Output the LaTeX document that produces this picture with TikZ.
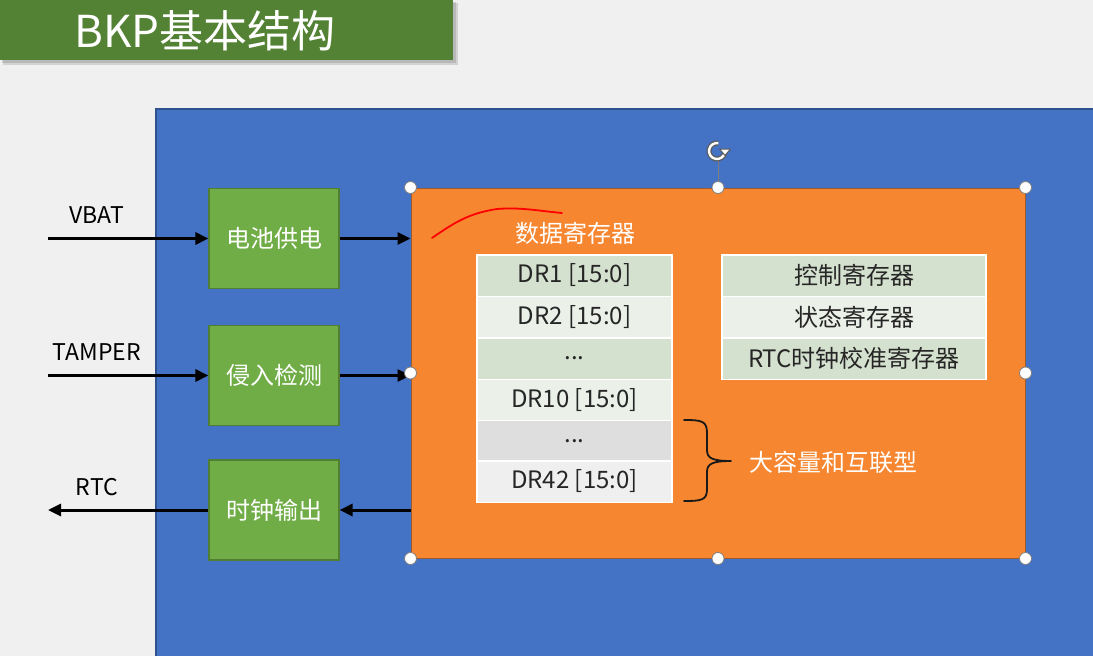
\documentclass[tikz,border=0pt]{standalone}
\usepackage{fontspec}
\setmainfont{Noto Sans CJK SC}
\usetikzlibrary{arrows.meta,calc}
\definecolor{bgc}{HTML}{F0F0F0}
\definecolor{titlegreen}{HTML}{548235}
\definecolor{panelblue}{HTML}{4472C4}
\definecolor{panelborder}{HTML}{2F528F}
\definecolor{coreorange}{HTML}{F6862F}
\definecolor{coreborder}{HTML}{9C5B2E}
\definecolor{boxgreen}{HTML}{70AD47}
\definecolor{boxborder}{HTML}{507E32}
\definecolor{rowA}{HTML}{D5E1CF}
\definecolor{rowB}{HTML}{EBF0E8}
\definecolor{rowC}{HTML}{DEDEDE}
\definecolor{rowD}{HTML}{EFEFEF}
\definecolor{txtdark}{HTML}{262626}
\definecolor{handlegray}{HTML}{7F7F7F}
\begin{document}
\begin{tikzpicture}[x=1pt,y=-1pt,
  fs/.style={font=\fontsize{#1}{#1}\selectfont},
  gbox/.style={draw=boxborder, line width=1.2pt, fill=boxgreen, minimum width=130, minimum height=100, inner sep=0, text=white, fs=24},
  arr/.style={line width=3pt, black, -{Triangle[length=13pt,width=12pt]}},
  sig/.style={fs=23, text=black, inner sep=0},
  row/.style={draw=white, line width=1.5pt, minimum height=41.5, inner sep=0, text=txtdark, fs=24},
  handle/.style={circle, fill=white, draw=handlegray, line width=0.8pt, minimum size=12, inner sep=0},
]
\useasboundingbox (0,0) rectangle (1093,656);
\fill[bgc] (0,0) rectangle (1093,656);

% title
\fill[black, opacity=0.12] (3,3) rectangle (458,65);
\fill[black, opacity=0.12] (2,2) rectangle (456,63);
\node[fill=titlegreen, anchor=north west, minimum width=453, minimum height=60, inner sep=0] (titlebar) at (0,0) {};
\node[fs=44, text=white, inner sep=0] (titletext) at (205,31) {BKP基本结构};

% panel
\node[draw=panelborder, line width=2pt, fill=panelblue, anchor=north west, minimum width=950, minimum height=560, inner sep=0] (panel) at (155,108) {};

% core orange
\node[draw=coreborder, line width=1pt, fill=coreorange, minimum width=614, minimum height=370, inner sep=0] (core) at (718,373) {};

% green boxes
\node[gbox] (bat) at (274,238.5) {电池供电};
\node[gbox] (tamp) at (274,375.5) {侵入检测};
\node[gbox] (clk) at (274,510) {时钟输出};

% signal labels
\node[sig] (vbat) at (97,215) {VBAT};
\node[sig] (tamper) at (97,352) {TAMPER};
\node[sig] (rtc) at (97,487) {RTC};

\coordinate (vbatin) at (48,238.5);
\coordinate (tampin) at (48,375.5);
\coordinate (rtcout) at (48,510);

\draw[arr] (vbatin) -- (bat.west);
\draw[arr] (bat.east) -- (core.west |- bat.east);
\draw[arr] (tampin) -- (tamp.west);
\draw[arr] (tamp.east) -- (core.west |- tamp.east);
\draw[arr] (core.west |- clk.east) -- (clk.east);
\draw[arr] (clk.west) -- (rtcout);

% data registers
\node[fs=24, text=white, inner sep=0] (drtitle) at (575,233) {数据寄存器};
\node[row, fill=rowA, minimum width=195] (dr1) at (574.5,275.5) {DR1 [15:0]};
\node[row, fill=rowB, minimum width=195] (dr2) at (574.5,317) {DR2 [15:0]};
\node[row, fill=rowA, minimum width=195] (dr3) at (574.5,358.5) {...};
\node[row, fill=rowB, minimum width=195] (dr10) at (574.5,400) {DR10 [15:0]};
\node[row, fill=rowC, minimum width=195] (dr11) at (574.5,441) {...};
\node[row, fill=rowD, minimum width=195] (dr42) at (574.5,481.5) {DR42 [15:0]};

% control registers
\node[row, fill=rowA, minimum width=264] (cr) at (854,275.5) {控制寄存器};
\node[row, fill=rowB, minimum width=264] (sr) at (854,317) {状态寄存器};
\node[row, fill=rowA, minimum width=264] (rtccal) at (854,358.5) {RTC时钟校准寄存器};

% brace
\coordinate (bt) at (684,420);
\coordinate (bb) at (684,501);
\coordinate (btip) at (731,461);
\draw[line width=1.8pt, black!90, line cap=round, line join=round]
  (bt) .. controls (702,420) and (707,421) .. (707,433) -- (707,450)
  .. controls (707,458) and (712,461) .. (btip)
  .. controls (712,461) and (707,464) .. (707,472) -- (707,489)
  .. controls (707,500) and (702,501) .. (bb);
\node[fs=24, text=white, inner sep=0] (large) at (833,462) {大容量和互联型};

% red annotation stroke
\draw[red, line width=1.8pt, line cap=round] (432,238) .. controls (455,222) and (470,213) .. (497,209) .. controls (520,207) and (540,211) .. (562,213);

% selection handles
\coordinate (rot) at (717,151);
\draw[handlegray, line width=1pt] (core.north |- rot) ++(0,10) -- (core.north);
\draw[black!65, line width=5pt] (rot) ++(-80:8) arc[start angle=-80, end angle=-350, radius=8];
\draw[white, line width=2.4pt] (rot) ++(-80:8) arc[start angle=-80, end angle=-350, radius=8];
\filldraw[fill=white, draw=black!65, line width=1pt, line join=round] ($(rot)+(2.5,-2)$) -- ($(rot)+(13.5,-2)$) -- ($(rot)+(8,4.5)$) -- cycle;
\foreach \a/\n in {north west/h1, north/h2, north east/h3, west/h4, east/h5, south west/h6, south/h7, south east/h8}
  \node[handle] (\n) at (core.\a) {};
\end{tikzpicture}
\end{document}
